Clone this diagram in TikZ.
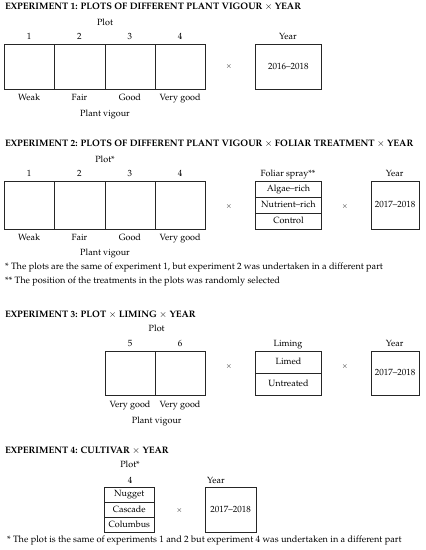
\documentclass[tikz,border=0pt]{standalone}
\usepackage[T1]{fontenc}
\usepackage{mathpazo}
\usetikzlibrary{calc}
\begin{document}
\begin{tikzpicture}[x=1pt,y=-1pt,
  lbl/.style={inner sep=0pt, text height=6.3pt, text depth=1.9pt, font=\fontsize{9}{10}\selectfont},
  ttl/.style={inner sep=0pt, anchor=west, font=\bfseries\fontsize{9.4}{10}\selectfont},
  fnote/.style={inner sep=0pt, anchor=west, font=\fontsize{9.2}{10}\selectfont},
  tms/.style={inner sep=0pt, font=\fontsize{7.5}{8}\selectfont},
  cell/.style={draw=black!85, line width=0.6pt, anchor=north west, inner sep=0pt, text height=6.3pt, text depth=1.9pt, font=\fontsize{9}{10}\selectfont}]
\useasboundingbox (0,0) rectangle (426,550);
% ---------- Experiment 1
\node[ttl] (t1) at (5,7) {EXPERIMENT 1: PLOTS OF DIFFERENT PLANT VIGOUR $\times$ YEAR};
\node[lbl] (p1) at (105,23) {Plot};
\foreach \i/\x/\v in {1/4/Weak,2/54.3/Fair,3/104.7/Good,4/155/Very good}{
  \node[cell, minimum width=50.3pt, minimum height=45.6pt] (a\i) at (\x,43.7) {};
  \node[lbl] (an\i) at ($(\x,37.5)+(25.15,0)$) {\i};
  \node[lbl] (av\i) at ($(\x,98.5)+(25.15,0)$) {\v};
}
\node[lbl] (pv1) at (105,114) {Plant vigour};
\node[tms] (x1) at (229,67) {$\times$};
\node[cell, minimum width=65.7pt, minimum height=45.6pt] (y1) at (255.3,43.7) {};
\node[lbl] (yl1) at (288,37.5) {Year};
\node[lbl] at (y1.center) {2016--2018};
% ---------- Experiment 2
\node[ttl] (t2) at (5,144) {EXPERIMENT 2: PLOTS OF DIFFERENT PLANT VIGOUR $\times$ FOLIAR TREATMENT $\times$ YEAR};
\node[lbl] (p2) at (105,160) {Plot*};
\foreach \i/\x/\v in {1/4/Weak,2/54.3/Fair,3/104.7/Good,4/155/Very good}{
  \node[cell, minimum width=50.3pt, minimum height=48.8pt] (b\i) at (\x,180.5) {};
  \node[lbl] (bn\i) at ($(\x,174)+(25.15,0)$) {\i};
  \node[lbl] (bv\i) at ($(\x,238)+(25.15,0)$) {\v};
}
\node[lbl] (pv2) at (105,253.3) {Plant vigour};
\node[tms] (x2a) at (229,207) {$\times$};
\node[lbl] (fs) at (288,174) {Foliar spray**};
\node[cell, minimum width=65.7pt, minimum height=16.3pt] (f1) at (255.3,180.5) {Algae--rich};
\node[cell, minimum width=65.7pt, minimum height=16.3pt] (f2) at (255.3,196.8) {Nutrient--rich};
\node[cell, minimum width=65.7pt, minimum height=16.2pt] (f3) at (255.3,213.1) {Control};
\node[tms] (x2b) at (345,207) {$\times$};
\node[cell, minimum width=48.5pt, minimum height=48.8pt] (y2) at (370.5,180.5) {};
\node[lbl] (yl2) at (394.7,174) {Year};
\node[lbl] at (y2.center) {2017--2018};
\node[fnote] (n1) at (5,267.7) {* The plots are the same of experiment 1, but experiment 2 was undertaken in a different part};
\node[fnote] (n2) at (5,281.7) {** The position of the treatments in the plots was randomly selected};
% ---------- Experiment 3
\node[ttl] (t3) at (5,314.3) {EXPERIMENT 3: PLOT $\times$ LIMING $\times$ YEAR};
\node[lbl] (p3) at (156.7,329) {Plot};
\foreach \i/\x in {5/105,6/155}{
  \node[cell, minimum width=50pt, minimum height=44.6pt] (c\i) at (\x,350.7) {};
  \node[lbl] (cn\i) at ($(\x,344.3)+(25,0)$) {\i};
  \node[lbl] (cv\i) at ($(\x,405.5)+(25,0)$) {Very good};
}
\node[lbl] (pv3) at (156.7,421) {Plant vigour};
\node[tms] (x3a) at (229,367) {$\times$};
\node[lbl] (lm) at (288,344.3) {Liming};
\node[cell, minimum width=65.7pt, minimum height=22.6pt] (l1) at (255.3,350.7) {Limed};
\node[cell, minimum width=65.7pt, minimum height=22pt] (l2) at (255.3,373.3) {Untreated};
\node[tms] (x3b) at (345,367) {$\times$};
\node[cell, minimum width=48.5pt, minimum height=44.6pt] (y3) at (370.5,350.7) {};
\node[lbl] (yl3) at (394.7,344.3) {Year};
\node[lbl] at (y3.center) {2017--2018};
% ---------- Experiment 4
\node[ttl] (t4) at (5,450.7) {EXPERIMENT 4: CULTIVAR $\times$ YEAR};
\node[lbl] (p4) at (130,465) {Plot*};
\node[lbl] (dn4) at (130,481) {4};
\node[cell, minimum width=50pt, minimum height=15.2pt] (d1) at (104,486.7) {Nugget};
\node[cell, minimum width=50pt, minimum height=15.2pt] (d2) at (104,501.9) {Cascade};
\node[cell, minimum width=50pt, minimum height=15.2pt] (d3) at (104,517.1) {Columbus};
\node[tms] (x4) at (179.3,511) {$\times$};
\node[cell, minimum width=50.7pt, minimum height=45.6pt] (y4) at (205,486.7) {};
\node[lbl] (yl4) at (216,481) {Year};
\node[lbl] at (y4.center) {2017--2018};
\node[fnote] (n3) at (7,540) {* The plot is the same of experiments 1 and 2 but experiment 4 was undertaken in a different part};
\end{tikzpicture}
\end{document}
